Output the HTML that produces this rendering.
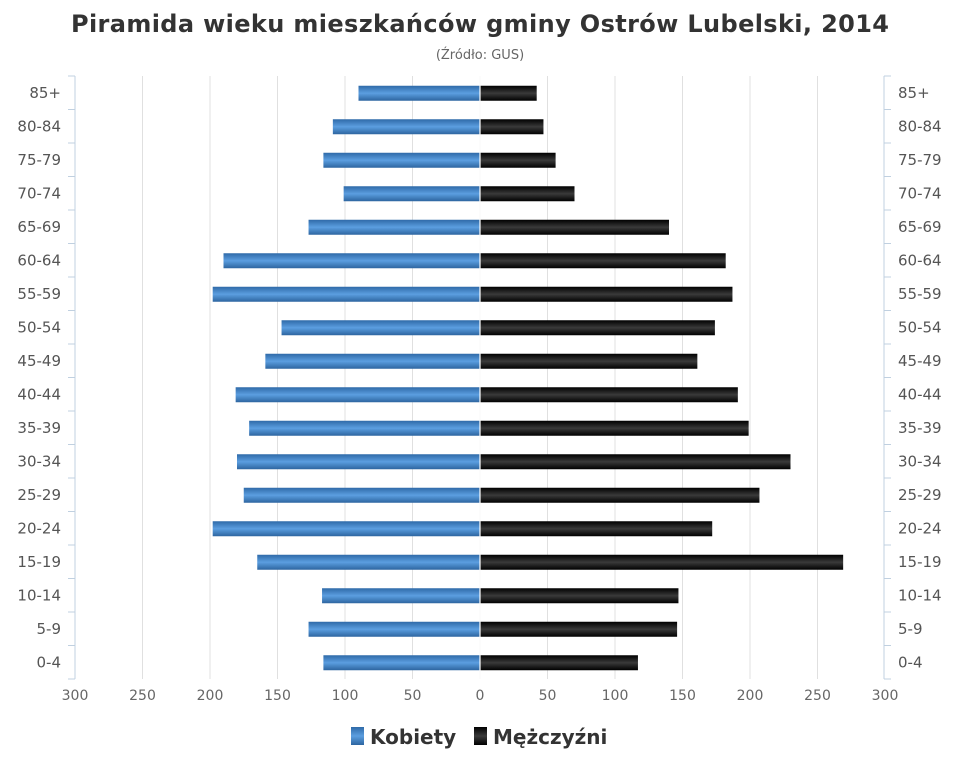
<!DOCTYPE html>
<html><head><meta charset="utf-8"><style>
body{margin:0;background:#fff;width:960px;height:768px;overflow:hidden}
svg text{font-family:"DejaVu Sans","Liberation Sans",sans-serif}
</style></head><body>
<svg id="s" width="960" height="768" xmlns="http://www.w3.org/2000/svg">
<defs>
<linearGradient id="gb" x1="0" y1="0" x2="0" y2="1"><stop offset="0" stop-color="#2f6aa8"/><stop offset="0.5" stop-color="#5b9ee0"/><stop offset="1" stop-color="#2d65a0"/></linearGradient>
<linearGradient id="gk" x1="0" y1="0" x2="0" y2="1"><stop offset="0" stop-color="#000"/><stop offset="0.5" stop-color="#3a3a3a"/><stop offset="1" stop-color="#000"/></linearGradient>
</defs>
<text x="480" y="32" text-anchor="middle" font-size="24" font-weight="bold" fill="#333" textLength="818">Piramida wieku mieszkańców gminy Ostrów Lubelski, 2014</text>
<text x="480" y="59" text-anchor="middle" font-size="13" fill="#666">(Źródło: GUS)</text>
<g id="g"></g>
<rect x="351" y="727" width="13" height="18" fill="url(#gb)"/>
<text x="370" y="744" font-size="20" font-weight="bold" fill="#333">Kobiety</text>
<rect x="474" y="727" width="13" height="18" fill="url(#gk)"/>
<text x="493" y="744" font-size="20" font-weight="bold" fill="#333">Mężczyźni</text>
</svg>
<script>
(function(){
var L=["85+","80-84","75-79","70-74","65-69","60-64","55-59","50-54","45-49","40-44","35-39","30-34","25-29","20-24","15-19","10-14","5-9","0-4"];
var K=[90,109,116,101,127,190,198,147,159,181,171,180,175,198,165,117,127,116];
var M=[42,47,56,70,140,182,187,174,161,191,199,230,207,172,269,147,146,117];
var s="",c=480,k=1.35,t0=76,b0=679,st=(b0-t0)/18;
for(var v=-300;v<=300;v+=50){var x=c+v*k;
 if(v!=-300&&v!=300)s+='<line x1="'+x+'" y1="'+t0+'" x2="'+x+'" y2="'+b0+'" stroke="#e0e0e0"/>';
 s+='<text x="'+x+'" y="700" text-anchor="middle" font-size="14" fill="#666">'+Math.abs(v)+'</text>';}
s+='<line x1="75" y1="'+t0+'" x2="75" y2="'+b0+'" stroke="#c0d0e0"/><line x1="884" y1="'+t0+'" x2="884" y2="'+b0+'" stroke="#c0d0e0"/>';
for(var i=0;i<=18;i++){var y=t0+i*st;s+='<line x1="68" y1="'+y+'" x2="75" y2="'+y+'" stroke="#c0d0e0"/><line x1="884" y1="'+y+'" x2="891" y2="'+y+'" stroke="#c0d0e0"/>';}
for(var i=0;i<18;i++){var y=t0+(i+0.5)*st;
 s+='<rect x="'+(c-K[i]*k)+'" y="'+(y-7)+'" width="'+(K[i]*k)+'" height="15" fill="url(#gb)"/>';
 s+='<rect x="'+c+'" y="'+(y-7)+'" width="'+(M[i]*k)+'" height="15" fill="url(#gk)"/>';
 s+='<text x="61" y="'+(y+5)+'" text-anchor="end" font-size="15" fill="#555">'+L[i]+'</text>';
 s+='<text x="898" y="'+(y+5)+'" font-size="15" fill="#555">'+L[i]+'</text>';}
s+='<line x1="480" y1="'+t0+'" x2="480" y2="'+b0+'" stroke="#fff" stroke-width="1.5" opacity="0.8"/>';
document.getElementById("g").innerHTML=s;
})();
</script>
</body></html>
